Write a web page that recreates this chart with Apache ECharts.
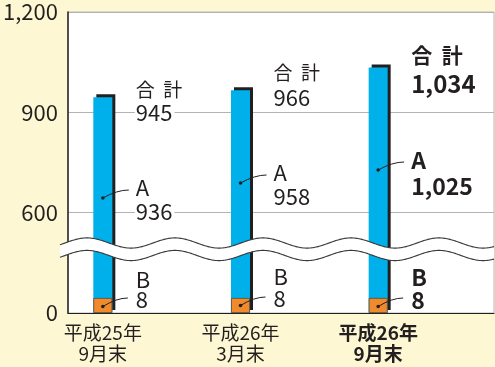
<!DOCTYPE html>
<html>
<head>
<meta charset="utf-8">
<script src="https://cdn.jsdelivr.net/npm/echarts@6/dist/echarts.min.js"></script>
<style>
  html, body { margin: 0; padding: 0; background: #fdf8d3; }
  #chart { width: 495px; height: 367px; }
</style>
</head>
<body>
<div id="chart"></div>
<script>
// ---- data ----
const periods = ['平成25年\n9月末', '平成26年\n3月末', '平成26年\n9月末'];
const totalValues = [945, 966, 1034];   // 合計
const aValues = [936, 958, 1025];       // A
const bValues = [8, 8, 8];              // B
const yTickValues = [0, 600, 900, 1200];
const yTickLabels = ['0', '600', '900', '1,200'];

// ---- broken value axis ----
// Above 600 the axis is linear (300 per 100 axis units); below the break the
// scale is stretched so the small B segment stays visible.
function toAxis(v) {
  if (v >= 600) return 100 + (v - 600) / 3;
  if (v <= 8) return v * 15 / 8;
  return 15 + (v - 8) * 85 / 592;
}
const yTickAxis = yTickValues.map(toAxis);

const FONT = '"Noto Sans CJK JP", "Noto Sans", sans-serif';
const INK = '#231f20';
const BLUE = '#00b0ea';
const ORANGE = '#f08a2a';

const fmt = v => v.toLocaleString('en-US');

const chart = echarts.init(document.getElementById('chart'), null, { renderer: 'canvas' });

chart.setOption({
  backgroundColor: '#fdf8d3',
  animation: false,
  textStyle: { fontFamily: FONT },
  grid: [
    { left: 34, right: 48, top: 12, bottom: 54 },
    { left: 67, right: 1, top: 12, bottom: 54, show: true, backgroundColor: '#ffffff',
      borderColor: '#b8b8b8', borderWidth: 1 }
  ],
  xAxis: [
    {
      gridIndex: 0, type: 'category', data: periods,
      axisLine: { show: false }, axisTick: { show: false },
      axisLabel: {
        interval: 0, hideOverlap: false,
        margin: 9, fontFamily: FONT, fontSize: 19, lineHeight: 21, color: INK,
        formatter: (v, i) => i === periods.length - 1
          ? v.split('\n').map(s => '{b|' + s + '}').join('\n')
          : v,
        rich: { b: { fontFamily: FONT, fontSize: 19, lineHeight: 21, fontWeight: 'bold', color: INK } }
      }
    },
    {
      gridIndex: 1, type: 'value', min: 0, max: 1,
      axisLine: { show: true, onZero: false, lineStyle: { color: INK, width: 1.2 } },
      axisTick: { show: false }, axisLabel: { show: false }, splitLine: { show: false }
    }
  ],
  yAxis: [
    { gridIndex: 0, type: 'value', min: 0, max: 300, show: false },
    {
      gridIndex: 1, type: 'value', min: 0, max: 300, interval: 100,
      axisLine: { show: true, lineStyle: { color: INK, width: 1.5 } },
      axisTick: { show: false },
      axisLabel: {
        margin: 10, fontFamily: FONT, fontSize: 22, color: INK,
        formatter: v => {
          const i = yTickAxis.findIndex(t => Math.abs(t - v) < 0.5);
          return i >= 0 ? yTickLabels[i] : '';
        }
      },
      splitLine: { show: true, lineStyle: { color: '#b3b3b3', width: 1 } }
    }
  ],
  series: [
    {
      name: '合計', type: 'bar', xAxisIndex: 0, yAxisIndex: 0,
      data: totalValues.map(toAxis), barWidth: 19, z: 3,
      itemStyle: { color: BLUE, shadowColor: INK, shadowOffsetX: 3, shadowOffsetY: -3, shadowBlur: 0 }
    },
    {
      name: 'B', type: 'bar', xAxisIndex: 0, yAxisIndex: 0,
      data: bValues.map(toAxis), barWidth: 19, barGap: '-100%', z: 4,
      itemStyle: { color: ORANGE, borderColor: '#5a4a3a', borderWidth: 0.8 }
    }
  ]
});

// ---- annotations: value labels with leader lines, and the axis break ----
// Vertical placement of each label block (px): [first line, second line]
const labelLayout = [
  { total: [-8, 15], a: [188, 212], b: [280, 300] },
  { total: [-17, 7], a: [173, 197], b: [277, 299] },
  { total: [-13, 16], a: [160, 186], b: [277, 300] }
];

function textEl(x, y, text, size, bold, bg) {
  return {
    type: 'text', x: x, y: y, z: 60,
    style: {
      text: text, fill: INK,
      font: (bold ? 'bold ' : 'normal ') + size + 'px ' + FONT,
      align: 'left', verticalAlign: 'middle',
      backgroundColor: bg ? '#ffffff' : 'transparent', padding: [0, 2, 0, 1]
    }
  };
}

function leader(x1, y1, x2, y2) {
  return [
    { type: 'bezierCurve', z: 55,
      shape: { x1: x1, y1: y1, x2: x2, y2: y2, cpx1: x1 + (x2 - x1) * 0.55, cpy1: y2 },
      style: { stroke: INK, lineWidth: 1, fill: null } },
    { type: 'circle', z: 56, shape: { cx: x1, cy: y1, r: 1.8 }, style: { fill: INK } }
  ];
}

const graphics = [];
periods.forEach((p, i) => {
  const bold = i === periods.length - 1;
  const cx = chart.convertToPixel({ xAxisIndex: 0 }, i);
  const top = chart.convertToPixel({ yAxisIndex: 0 }, toAxis(totalValues[i]));
  const tx = cx + 32;
  const L = labelLayout[i];
  const numSize = bold ? 23 : 22;

  // 合計
  graphics.push(textEl(tx, top + L.total[0], '合  計', bold ? 21 : 19, bold, true));
  graphics.push(textEl(tx, top + L.total[1], fmt(totalValues[i]), bold ? 24 : 22, bold, true));

  // A
  graphics.push(textEl(tx, L.a[0], 'A', numSize, bold, true));
  graphics.push(textEl(tx, L.a[1], fmt(aValues[i]), numSize, bold, true));
  graphics.push(...leader(cx, L.a[0] + 10, cx + 26, L.a[0] + 2));

  // B
  graphics.push(textEl(tx, L.b[0], 'B', numSize, bold, true));
  graphics.push(textEl(tx, L.b[1], fmt(bValues[i]), numSize, bold, true));
  graphics.push(...leader(cx, L.b[1] + 6.5, cx + 25, L.b[1] - 2));
});

// wavy break band across the plot
(function () {
  const x0 = 60, x1 = 494, mid = 243, amp = 5.1, period = 88, crest = 87, gap = 12.5;
  const upper = [], lower = [];
  for (let x = x0; x <= x1; x += 1) {
    const y = mid - amp * Math.cos(2 * Math.PI * (x - crest) / period);
    upper.push([x, y]);
    lower.push([x, y + gap]);
  }
  graphics.push({ type: 'polygon', z: 40, shape: { points: upper.concat(lower.slice().reverse()) },
    style: { fill: '#ffffff', stroke: null } });
  graphics.push({ type: 'polyline', z: 41, shape: { points: upper },
    style: { stroke: '#3a3a3a', lineWidth: 1.1, fill: null } });
  graphics.push({ type: 'polyline', z: 41, shape: { points: lower },
    style: { stroke: '#3a3a3a', lineWidth: 1.1, fill: null } });
})();

chart.setOption({ graphic: graphics });
</script>
</body>
</html>
